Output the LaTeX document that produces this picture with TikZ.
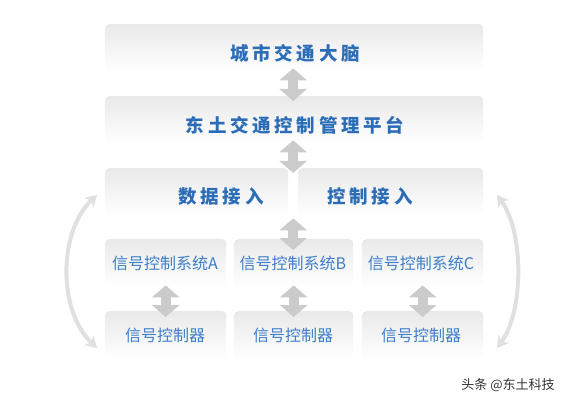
\documentclass[tikz,border=0pt]{standalone}
\usepackage{fontspec}
\setmainfont{Noto Sans CJK SC}
\newfontfamily\cjkbig[LetterSpace=20]{Noto Sans CJK SC}
\newfontfamily\cjkreg{Noto Sans CJK SC}
\usetikzlibrary{arrows.meta,calc}
\definecolor{boxtop}{HTML}{E9E9E9}
\definecolor{bigblue}{HTML}{2B6DB6}
\definecolor{smallblue}{HTML}{3D7DC9}
\definecolor{arrgray}{HTML}{CBCBCB}
\definecolor{sidegray}{HTML}{E0E0E0}
\definecolor{wmgray}{HTML}{333333}
\begin{document}
\begin{tikzpicture}[x=1pt,y=-1pt,
  panel/.style={anchor=north west, inner sep=0pt, rounded corners=4pt,
    top color=boxtop, bottom color=white, draw=none, minimum height=48pt},
  bigtxt/.style={font=\cjkbig\bfseries\fontsize{18.5}{20}\selectfont, text=bigblue, inner sep=0pt},
  smalltxt/.style={font=\cjkreg\fontsize{16}{18}\selectfont, text=smallblue, inner sep=0pt},
  blk/.style={line width=10pt, draw=arrgray,
    {Triangle[width=27pt,length=12pt]}-{Triangle[width=27pt,length=12pt]}},
  sidearc/.style={line width=4pt, draw=sidegray,
    {Stealth[width=13pt,length=11pt,inset=3pt]}-{Stealth[width=13pt,length=11pt,inset=3pt]}}]
\useasboundingbox (0,0) rectangle (574,404);
\fill[white] (0,0) rectangle (574,404);

% panels
\node[panel, minimum width=378pt] (brain) at (105,24) {};
\node[panel, minimum width=378pt] (plat) at (105,96) {};
\node[panel, minimum width=183pt] (data) at (105,168) {};
\node[panel, minimum width=185pt] (ctrl) at (298,168) {};
\node[panel, minimum width=121pt] (sysA) at (105,239) {};
\node[panel, minimum width=119pt] (sysB) at (234,239) {};
\node[panel, minimum width=121pt] (sysC) at (362,239) {};
\node[panel, minimum width=121pt] (devA) at (105,311) {};
\node[panel, minimum width=119pt] (devB) at (234,311) {};
\node[panel, minimum width=121pt] (devC) at (362,311) {};

% texts
\node[bigtxt] (tbrain) at (295,53) {城市交通大脑};
\node[bigtxt] (tplat) at (295,125) {东土交通控制管理平台};
\node[bigtxt] (tdata) at (221,196) {数据接入};
\node[bigtxt] (tctrl) at (370,196) {控制接入};
\node[smalltxt] (tsysA) at (165,263) {信号控制系统A};
\node[smalltxt] (tsysB) at (293,263) {信号控制系统B};
\node[smalltxt] (tsysC) at (421,263) {信号控制系统C};
\node[smalltxt] (tdevA) at (165,335) {信号控制器};
\node[smalltxt] (tdevB) at (293,335) {信号控制器};
\node[smalltxt] (tdevC) at (421,335) {信号控制器};

% block arrows
\draw[blk] ($(brain.south)+(-1,-4)$) -- ($(plat.north)+(-1,5)$);
\draw[blk] ($(plat.south)+(-1,-4)$) -- ($(plat.south |- data.north)+(-1,5)$);
\draw[blk] ($(plat.south |- data.south)+(-1,2)$) -- ($(sysB.north)+(-0.5,11)$);
\draw[blk] ($(sysA.south)+(0,-2)$) -- ($(devA.north)+(0,6)$);
\draw[blk] ($(sysB.south)+(0,-2)$) -- ($(devB.north)+(0,6)$);
\draw[blk] ($(sysC.south)+(0,-2)$) -- ($(devC.north)+(0,6)$);

% side arcs
\coordinate (lt) at (97,195);
\coordinate (lb) at (97,348);
\coordinate (rt) at (497,195);
\coordinate (rb) at (497,348);
\draw[sidearc] (lt) .. controls (58,232) and (58,311) .. (lb);
\draw[sidearc] (rt) .. controls (524,232) and (524,311) .. (rb);

% watermark
\node[font=\cjkreg\fontsize{13}{15}\selectfont, text=wmgray, inner sep=0pt] (wm) at (508,385) {头条 @东土科技};
\end{tikzpicture}
\end{document}
